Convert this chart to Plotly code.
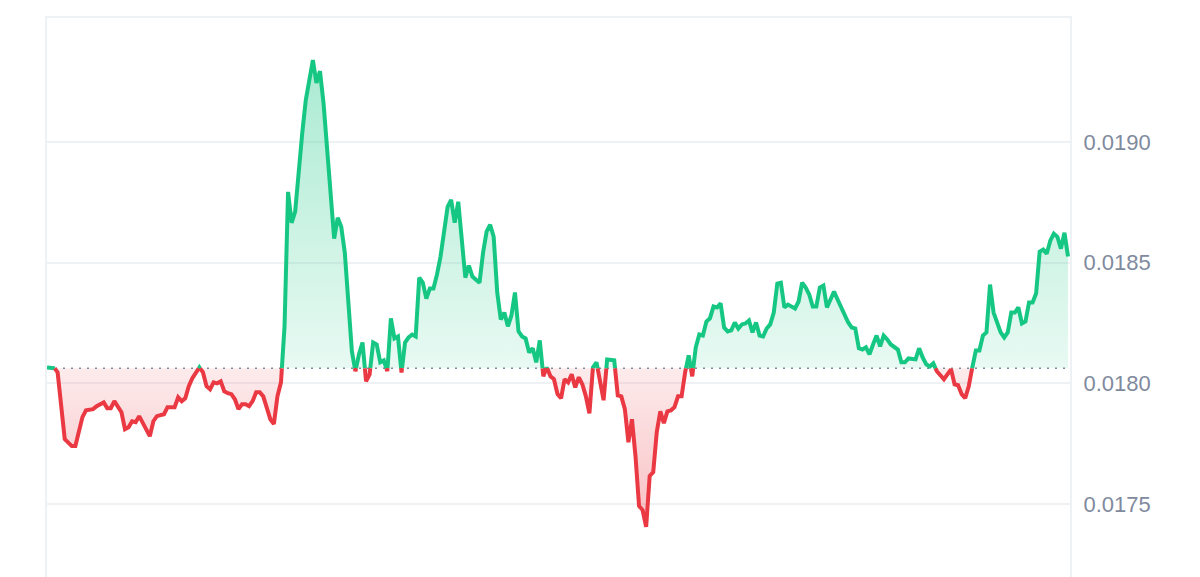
import plotly.graph_objects as go

# 5-minute steps over 24h and the price at each step
steps = [
    0, 2, 3, 5, 7, 8, 10, 11, 13, 14, 16, 17, 18, 19, 21, 22, 23, 24, 25, 26,
    27, 29, 30, 31, 33, 34, 36, 37, 38, 39, 40, 41, 43, 44, 45, 46, 47, 48, 49, 50,
    51, 52, 53, 54, 55, 56, 57, 58, 59, 60, 61, 63, 64, 65, 66, 67, 68, 69, 70, 71,
    72, 73, 75, 76, 77, 78, 79, 80, 81, 82, 83, 84, 85, 86, 87, 88, 89, 90, 91, 92,
    93, 94, 95, 96, 97, 98, 99, 100, 101, 102, 103, 104, 105, 106, 107, 108, 109, 110, 111, 113,
    114, 115, 116, 117, 118, 119, 120, 122, 123, 124, 125, 126, 127, 128, 129, 130, 131, 132, 133, 134,
    135, 136, 137, 138, 139, 140, 141, 142, 143, 144, 145, 146, 147, 148, 149, 150, 151, 152, 153, 154,
    155, 157, 158, 160, 161, 162, 163, 164, 165, 166, 167, 168, 169, 170, 171, 172, 173, 174, 175, 176,
    177, 178, 179, 180, 181, 182, 183, 184, 185, 186, 187, 188, 189, 190, 191, 192, 193, 194, 195, 196,
    197, 198, 199, 200, 201, 202, 203, 204, 205, 206, 207, 208, 209, 211, 212, 213, 214, 215, 216, 217,
    218, 219, 220, 221, 222, 223, 225, 226, 227, 228, 229, 230, 231, 232, 233, 234, 235, 236, 237, 238,
    240, 241, 242, 243, 245, 246, 247, 248, 249, 250, 251, 253, 255, 256, 257, 258, 259, 260, 261, 262,
    263, 264, 265, 266, 267, 269, 270, 271, 272, 273, 274, 275, 276, 277, 278, 279, 280, 281, 282, 283,
    284, 285, 286, 287, 288,
]

prices = [
    0.018066, 0.018066, 0.018045, 0.017769, 0.017740, 0.017740, 0.017860, 0.017888, 0.017893, 0.017905,
    0.017921, 0.017897, 0.017897, 0.017926, 0.017880, 0.017810, 0.017818, 0.017843, 0.017839, 0.017864,
    0.017839, 0.017781, 0.017843, 0.017864, 0.017872, 0.017901, 0.017901, 0.017942, 0.017926, 0.017938,
    0.017988, 0.018021, 0.018066, 0.018045, 0.017988, 0.017975, 0.018004, 0.018000, 0.018008, 0.017967,
    0.017959, 0.017955, 0.017934, 0.017893, 0.017913, 0.017913, 0.017905, 0.017926, 0.017963, 0.017963,
    0.017946, 0.017851, 0.017831, 0.017946, 0.018004, 0.018236, 0.018793, 0.018665, 0.018711, 0.018897,
    0.019037, 0.019174, 0.019339, 0.019244, 0.019293, 0.019161, 0.018979, 0.018748, 0.018599, 0.018686,
    0.018649, 0.018541, 0.018335, 0.018132, 0.018050, 0.018120, 0.018169, 0.018008, 0.018037, 0.018169,
    0.018161, 0.018087, 0.018095, 0.018050, 0.018269, 0.018186, 0.018194, 0.018045, 0.018169, 0.018190,
    0.018202, 0.018194, 0.018438, 0.018417, 0.018351, 0.018393, 0.018393, 0.018450, 0.018525, 0.018731,
    0.018760, 0.018665, 0.018752, 0.018595, 0.018438, 0.018488, 0.018442, 0.018417, 0.018541, 0.018628,
    0.018657, 0.018607, 0.018376, 0.018264, 0.018293, 0.018236, 0.018281, 0.018376, 0.018215, 0.018194,
    0.018186, 0.018128, 0.018145, 0.018087, 0.018178, 0.018029, 0.018066, 0.018029, 0.018017, 0.017955,
    0.017938, 0.018017, 0.018004, 0.018037, 0.017983, 0.018025, 0.017996, 0.017946, 0.017876, 0.018066,
    0.018087, 0.017930, 0.018099, 0.018095, 0.017950, 0.017946, 0.017893, 0.017756, 0.017851, 0.017698,
    0.017492, 0.017475, 0.017405, 0.017616, 0.017632, 0.017798, 0.017884, 0.017835, 0.017884, 0.017888,
    0.017901, 0.017946, 0.017946, 0.018045, 0.018116, 0.018029, 0.018149, 0.018202, 0.018198, 0.018256,
    0.018269, 0.018318, 0.018314, 0.018331, 0.018231, 0.018215, 0.018219, 0.018252, 0.018227, 0.018244,
    0.018248, 0.018260, 0.018211, 0.018252, 0.018198, 0.018194, 0.018227, 0.018244, 0.018293, 0.018413,
    0.018417, 0.018314, 0.018326, 0.018310, 0.018339, 0.018417, 0.018397, 0.018368, 0.018318, 0.018318,
    0.018397, 0.018405, 0.018314, 0.018347, 0.018380, 0.018347, 0.018285, 0.018252, 0.018231, 0.018227,
    0.018145, 0.018140, 0.018149, 0.018120, 0.018161, 0.018198, 0.018153, 0.018198, 0.018182, 0.018161,
    0.018140, 0.018087, 0.018087, 0.018103, 0.018099, 0.018145, 0.018107, 0.018079, 0.018070, 0.018083,
    0.018050, 0.018017, 0.018058, 0.017996, 0.017992, 0.017955, 0.017938, 0.017988, 0.018066, 0.018136,
    0.018136, 0.018198, 0.018211, 0.018409, 0.018293, 0.018211, 0.018190, 0.018211, 0.018293, 0.018293,
    0.018314, 0.018248, 0.018256, 0.018335, 0.018335, 0.018372, 0.018545, 0.018554, 0.018537, 0.018591,
    0.018620, 0.018607, 0.018558, 0.018624, 0.018525,
]

baseline = 0.018062  # opening price, drawn as the dotted reference line

tick_vals = [0.0175, 0.0180, 0.0185, 0.0190]
y_range = [0.0171645, 0.0195133]

GREEN = "#16c784"
RED = "#ea3943"
GRID = "#eff2f5"

# insert crossing points so the green and red parts meet on the baseline
xs, ys = [], []
for i in range(len(steps)):
    if i > 0:
        p0, p1 = prices[i - 1], prices[i]
        if (p0 - baseline) * (p1 - baseline) < 0:
            t = (baseline - p0) / (p1 - p0)
            xs.append(steps[i - 1] + t * (steps[i] - steps[i - 1]))
            ys.append(baseline)
    xs.append(steps[i])
    ys.append(prices[i])

up_line = [y if y >= baseline else None for y in ys]
down_line = [y if y <= baseline else None for y in ys]
up_fill = [max(y, baseline) for y in ys]
down_fill = [min(y, baseline) for y in ys]
base_line = [baseline] * len(xs)

fig = go.Figure()

# green area above the baseline
fig.add_trace(go.Scatter(x=xs, y=base_line, mode="lines", line=dict(width=0),
                         hoverinfo="skip", showlegend=False))
fig.add_trace(go.Scatter(
    x=xs, y=up_fill, mode="lines", line=dict(width=0), fill="tonexty",
    fillgradient=dict(type="vertical", start=baseline, stop=y_range[1],
                      colorscale=[[0, "rgba(22,199,132,0.10)"], [1, "rgba(22,199,132,0.40)"]]),
    hoverinfo="skip", showlegend=False))

# red area below the baseline
fig.add_trace(go.Scatter(x=xs, y=base_line, mode="lines", line=dict(width=0),
                         hoverinfo="skip", showlegend=False))
fig.add_trace(go.Scatter(
    x=xs, y=down_fill, mode="lines", line=dict(width=0), fill="tonexty",
    fillgradient=dict(type="vertical", start=y_range[0], stop=baseline,
                      colorscale=[[0, "rgba(234,57,67,0.40)"], [1, "rgba(234,57,67,0.10)"]]),
    hoverinfo="skip", showlegend=False))

# dotted reference line
fig.add_trace(go.Scatter(x=[steps[0], steps[-1]], y=[baseline, baseline], mode="lines",
                         line=dict(color="#808a9d", width=1.5, dash="2px,6px"),
                         hoverinfo="skip", showlegend=False))

fig.add_trace(go.Scatter(x=xs, y=up_line, mode="lines", line=dict(color=GREEN, width=4),
                         connectgaps=False, showlegend=False))
fig.add_trace(go.Scatter(x=xs, y=down_line, mode="lines", line=dict(color=RED, width=4),
                         connectgaps=False, showlegend=False))

# the page body adds an 8px offset, so margins are trimmed by that much
fig.update_layout(
    width=1200,
    height=577,
    margin=dict(l=39, r=138, t=10, b=0),
    paper_bgcolor="white",
    plot_bgcolor="white",
    font=dict(family="Liberation Sans, Arial, sans-serif", color="#808a9d", size=22),
    xaxis=dict(range=[0, 288.56], showgrid=False, zeroline=False, showticklabels=False,
               showline=True, linecolor=GRID, linewidth=2, mirror=True),
    yaxis=dict(range=y_range, side="right", tickvals=tick_vals, tickformat=".4f",
               showgrid=True, gridcolor=GRID, gridwidth=2, zeroline=False,
               showline=True, linecolor=GRID, linewidth=2, mirror=True,
               ticks="outside", ticklen=7, tickcolor="rgba(0,0,0,0)"),
)

fig.write_html("out.html")
